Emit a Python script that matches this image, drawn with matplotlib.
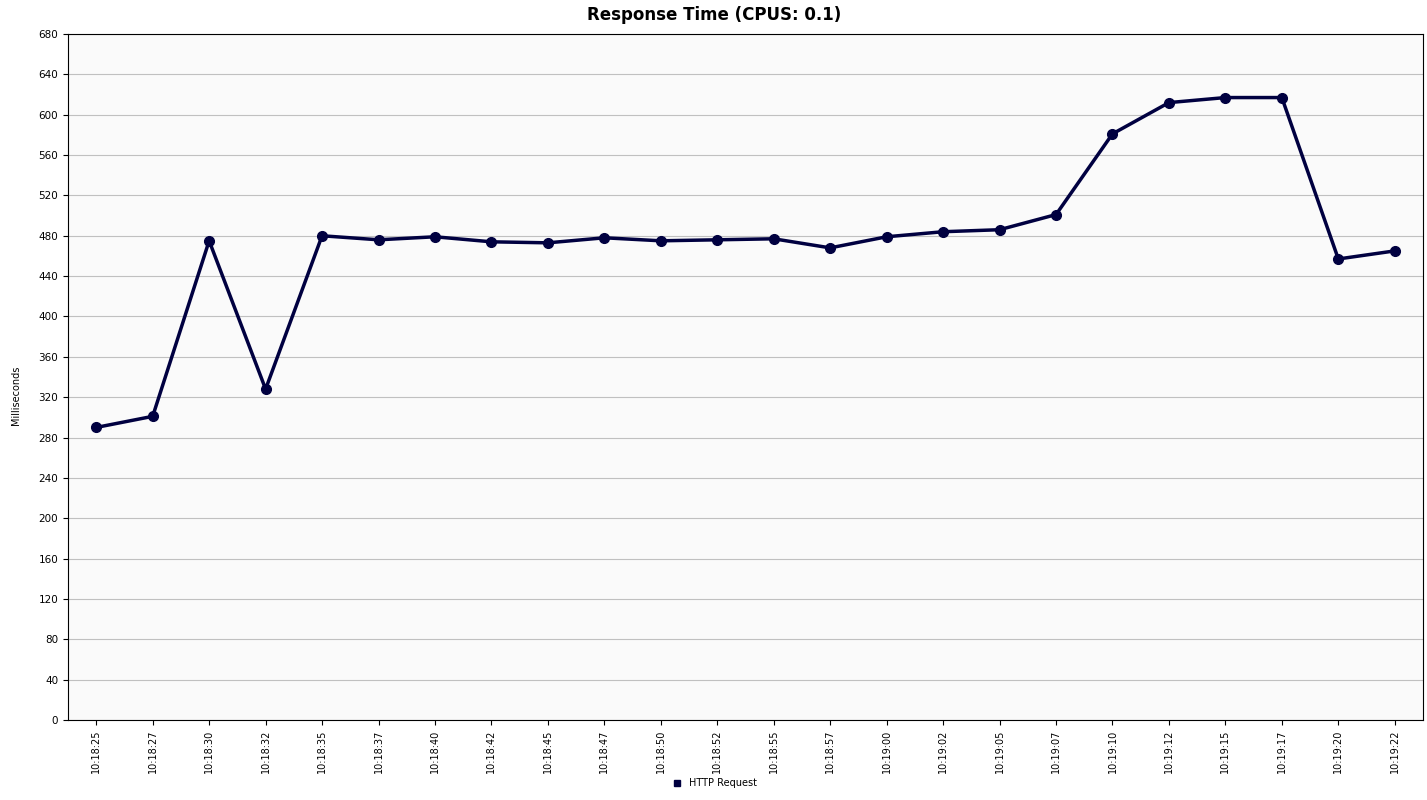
import matplotlib
matplotlib.use("Agg")
import matplotlib.pyplot as plt

labels = ["10:18:25","10:18:27","10:18:30","10:18:32","10:18:35","10:18:37","10:18:40","10:18:42",
          "10:18:45","10:18:47","10:18:50","10:18:52","10:18:55","10:18:57","10:19:00","10:19:02",
          "10:19:05","10:19:07","10:19:10","10:19:12","10:19:15","10:19:17","10:19:20","10:19:22"]
values = [290, 301, 475, 328, 480, 476, 479, 474, 473, 478, 475, 476, 477, 468, 479, 484,
          486, 501, 581, 612, 617, 617, 457, 465]
series_name = "HTTP Request"

fig = plt.figure(figsize=(14.27, 8.0), dpi=100)
ax = fig.add_axes([68/1427, 80/800, (1423-68)/1427, (720-34)/800])
ax.set_facecolor("#FAFAFA")
x = list(range(len(labels)))
ax.plot(x, values, color="#000040", lw=2.5, marker="o", ms=7, label=series_name, zorder=3)
ax.set_xlim(-0.5, len(labels) - 0.5)
ax.set_ylim(0, 680)
ax.set_yticks(range(0, 681, 40))
ax.set_xticks(x)
ax.set_xticklabels(labels, rotation=90, fontsize=7)
ax.tick_params(axis="y", labelsize=7.5)
ax.grid(axis="y", color="#C0C0C0", lw=0.8)
ax.set_axisbelow(True)
fig.text(16/1427, 1 - 395/800, "Milliseconds", rotation=90, fontsize=7, ha="center", va="center")
fig.text(714/1427, 1 - 15/800, "Response Time (CPUS: 0.1)", fontsize=12, fontweight="bold",
         ha="center", va="center")
for s in ax.spines.values():
    s.set_color("black")
fig.legend(handles=[plt.Line2D([], [], color="#000040", marker="s", ls="none", ms=4)],
           labels=[series_name], loc="center", bbox_to_anchor=(712/1427, 1 - 783/800),
           frameon=False, fontsize=7, handletextpad=0.3)
fig.savefig("out.png", dpi=100)
